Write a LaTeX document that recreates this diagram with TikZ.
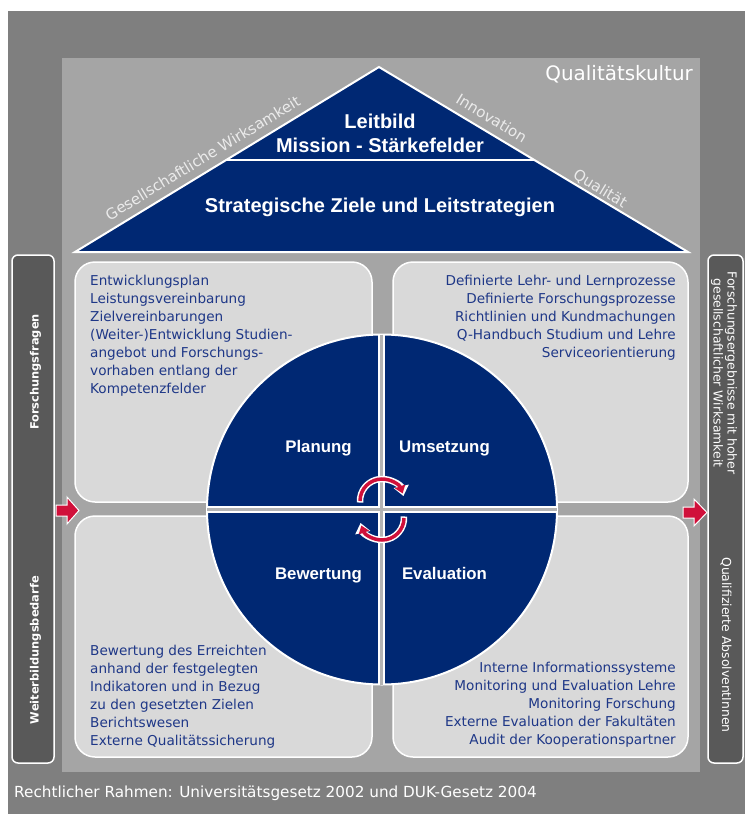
\documentclass[tikz,border=0pt]{standalone}
\usepackage{fontspec}
\setmainfont{DejaVu Sans}
\newfontfamily\lib{Liberation Sans}
\newfontfamily\dv{DejaVu Sans}
\usetikzlibrary{arrows.meta}
\definecolor{bgdark}{RGB}{127,127,127}
\definecolor{bginner}{RGB}{165,165,165}
\definecolor{boxgray}{RGB}{217,217,217}
\definecolor{bargray}{RGB}{89,89,89}
\definecolor{navy}{RGB}{0,40,115}
\definecolor{boxtext}{RGB}{30,55,135}
\definecolor{crimson}{RGB}{208,16,58}
\definecolor{crossgray}{RGB}{180,180,180}
\definecolor{labelgray}{RGB}{235,235,235}
\begin{document}
\begin{tikzpicture}[x=1pt,y=-1pt,
  boxshape/.style={fill=boxgray, draw=white, line width=1.5pt, rounded corners=20pt},
  barshape/.style={fill=bargray, draw=white, line width=1.5pt, rounded corners=6pt},
  boxtxt/.style={font=\dv\fontsize{13.6pt}{18pt}\selectfont, text=boxtext, inner sep=0pt},
  titletxt/.style={font=\lib\bfseries\fontsize{20pt}{24pt}\selectfont, text=white, inner sep=0pt, anchor=base},
  phasetxt/.style={font=\lib\bfseries\fontsize{16.8pt}{20pt}\selectfont, text=white, inner sep=0pt, anchor=base},
  sidelabel/.style={font=\dv\fontsize{15pt}{18pt}\selectfont, text=labelgray, inner sep=0pt},
  leftbartxt/.style={font=\dv\bfseries\fontsize{11.4pt}{14pt}\selectfont, text=white, inner sep=0pt, rotate=90},
  rightbartxt/.style={font=\dv\fontsize{12.4pt}{14pt}\selectfont, text=white, inner sep=0pt, rotate=-90, align=center},
  blockarrow/.style={fill=crimson, draw=white, line width=1pt},
  cyclewhite/.style={draw=white, line width=6.5pt, -{Triangle[length=10pt,width=15pt]}},
  cyclered/.style={draw=crimson, line width=3.5pt, -{Triangle[length=7.5pt,width=10.5pt]}}
]
\useasboundingbox (0,0) rectangle (745,814);
\fill[white] (0,0) rectangle (745,814);
\fill[bgdark] (8,11) rectangle (745,814);
\fill[bginner] (62,58) rectangle (700,772);

% side bars
\path[barshape] (12,255) rectangle (54,763);
\path[barshape] (708,255) rectangle (743,763);

% corner boxes
\path[boxshape] (75,262) rectangle (372,502);
\path[boxshape] (393,262) rectangle (688,502);
\path[boxshape] (75,516) rectangle (372,757);
\path[boxshape] (393,516) rectangle (688,757);

% triangle
\coordinate (bl) at (75,252);
\coordinate (apex) at (379,67);
\coordinate (br) at (688,252);
\draw[fill=navy, draw=white, line width=2pt, line join=miter] (bl) -- (apex) -- (br) -- cycle;
\draw[white, line width=2pt] (226,160) -- (534,160);

\node[titletxt] (leitbild) at (380,128.5) {Leitbild};
\node[titletxt] (mission) at (380,152.7) {Mission - Stärkefelder};
\node[titletxt] (strat) at (380,212.7) {Strategische Ziele und Leitstrategien};

\node[sidelabel, rotate=31.3] (gw) at (202.7,157.9) {Gesellschaftliche Wirksamkeit};
\node[sidelabel, rotate=-31.3] (inno) at (491.6,118) {Innovation};
\node[sidelabel, rotate=-31.3] (qual) at (600,189) {Qualität};

\node[font=\dv\fontsize{19.9pt}{24pt}\selectfont, text=white, inner sep=0pt, anchor=base east] (qk) at (693,80.5) {Qualitätskultur};

% circle
\draw[fill=navy, draw=white, line width=2pt] (382,509.5) circle[radius=175];
\draw[white, line width=7pt] (207,509.5) -- (557,509.5);
\draw[white, line width=7pt] (381.5,334.5) -- (381.5,684.5);
\draw[crossgray, line width=2.5pt] (207,509.5) -- (557,509.5);
\draw[crossgray, line width=2.5pt] (381.5,334.5) -- (381.5,684.5);

\node[phasetxt] (plan) at (318.5,452) {Planung};
\node[phasetxt] (umset) at (444.5,452) {Umsetzung};
\node[phasetxt] (bewert) at (318.5,579) {Bewertung};
\node[phasetxt] (eval) at (444.5,579) {Evaluation};

% cycle arrows
\draw[cyclewhite] (382,501) ++(176:22) arc[start angle=176, end angle=347, radius=22];
\draw[cyclered] (382,501) ++(180:22) arc[start angle=180, end angle=340, radius=22];
\draw[cyclewhite] (382,518) ++(-4:22) arc[start angle=-4, end angle=167, radius=22];
\draw[cyclered] (382,518) ++(0:22) arc[start angle=0, end angle=160, radius=22];

% block arrows
\draw[blockarrow] (56,505) -- (67,505) -- (67,497) -- (79,510.5) -- (67,524) -- (67,516) -- (56,516) -- cycle;
\draw[blockarrow] (683,507) -- (694,507) -- (694,499) -- (707,512.5) -- (694,526) -- (694,518) -- (683,518) -- cycle;

% box texts
\node[boxtxt, anchor=north west, align=left] (tltext) at (90,275.4)
 {Entwicklungsplan\\Leistungsvereinbarung\\Zielvereinbarungen\\(Weiter-)Entwicklung Studien-\\angebot und Forschungs-\\vorhaben entlang der\\Kompetenzfelder};
\node[boxtxt, anchor=north east, align=right] (trtext) at (676,274.7)
 {Definierte Lehr- und Lernprozesse\\Definierte Forschungsprozesse\\Richtlinien und Kundmachungen\\Q-Handbuch Studium und Lehre\\Serviceorientierung};
\node[boxtxt, anchor=north west, align=left] (bltext) at (90,644.7)
 {Bewertung des Erreichten\\anhand der festgelegten\\Indikatoren und in Bezug\\zu den gesetzten Zielen\\Berichtswesen\\Externe Qualitätssicherung};
\node[boxtxt, anchor=north east, align=right] (brtext) at (676,662)
 {Interne Informationssysteme\\Monitoring und Evaluation Lehre\\Monitoring Forschung\\Externe Evaluation der Fakultäten\\Audit der Kooperationspartner};

% bar texts
\node[leftbartxt] (ffragen) at (35.5,372) {Forschungsfragen};
\node[leftbartxt] (wbedarf) at (35.5,650) {Weiterbildungsbedarfe};
\node[rightbartxt] (ferg) at (724,373) {Forschungsergebnisse mit hoher\\gesellschaftlicher Wirksamkeit};
\node[rightbartxt] (qabs) at (726,645) {Qualifizierte AbsolventInnen};

% bottom text
\node[font=\dv\fontsize{15.25pt}{18pt}\selectfont, text=white, inner sep=0pt, anchor=base west] (recht) at (14,797)
 {Rechtlicher Rahmen: Universitätsgesetz 2002 und DUK-Gesetz 2004};
\end{tikzpicture}
\end{document}
